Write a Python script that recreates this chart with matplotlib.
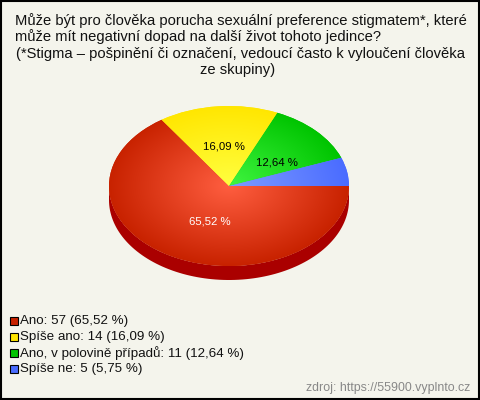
import numpy as np
import matplotlib.pyplot as plt
from matplotlib.patches import Rectangle, Polygon
from matplotlib.colors import to_rgb

plt.rcParams["font.family"] = ["Liberation Sans", "DejaVu Sans"]

# data
labels = ["Ano", "Spíše ano", "Ano, v polovině případů", "Spíše ne"]
counts = [57, 14, 11, 5]
face_inner = ["#ff5e40", "#ffff40", "#40f540", "#7f9cff"]
face_outer = ["#c82200", "#ffe600", "#00c400", "#4a6cff"]
side_colors = ["#aa0000", "#ccb800", "#009900", "#2c4acc"]
legend_colors = ["#c82200", "#ffe600", "#00c400", "#4a6cff"]

title_lines = [
    "Může být pro člověka porucha sexuální preference stigmatem*, které",
    "může mít negativní dopad na další život tohoto jedince?",
    "(*Stigma – pošpinění či označení, vedoucí často k vyloučení člověka",
    "ze skupiny)",
]
source = "zdroj: https://55900.vyplnto.cz"

BG = "#f4f4ec"
W, H = 480, 400
total = sum(counts)
pcts = [c / total * 100 for c in counts]


def fmt_pct(p):
    return f"{p:.2f} %".replace(".", ",")


fig = plt.figure(figsize=(W / 100, H / 100), dpi=100, facecolor=BG)

# pixel-space overlay for texts / legend / border
bg = fig.add_axes([0, 0, 1, 1])
bg.set_xlim(0, W)
bg.set_ylim(H, 0)
bg.axis("off")
bg.add_patch(Rectangle((0.5, 0.5), W - 1.5, H - 1.5, fill=False, ec="black", lw=1.5))

title_pos = [(241, 21, "center"), (15, 37, "left"), (241, 54, "center"), (238, 70, "center")]
for line, (x, y, ha) in zip(title_lines, title_pos):
    bg.text(x, y, line, ha=ha, va="center", fontsize=10.6, color="#111111")

# pie: ellipse rx=120, ry=80, depth 14 px
cx, cy, rx, ry, depth = 229, 186, 120, 80, 14
d = depth / ry
pie_ax = fig.add_axes([(cx - rx) / W, 1 - (cy + ry + depth) / H, 2 * rx / W, (2 * ry + depth) / H])
wedges, _, autotexts = pie_ax.pie(
    counts,
    startangle=0,
    counterclock=False,
    colors=face_outer,
    autopct=lambda p: fmt_pct(p) if p > 8 else "",
    pctdistance=0.5,
    wedgeprops=dict(linewidth=0),
    textprops=dict(fontsize=8.2),
)
pie_ax.set_aspect("auto")
pie_ax.axis("off")

# side wall for the front half
for w, sc in zip(wedges, side_colors):
    t1, t2 = sorted([w.theta1 % 360, w.theta2 % 360 if w.theta2 % 360 else 360])
    lo, hi = max(t1, 180), min(t2, 360)
    if w.theta2 - w.theta1 > 180:
        lo, hi = 180, 360
    if hi <= lo:
        continue
    t = np.radians(np.linspace(lo, hi, 100))
    xs, ys = np.cos(t), np.sin(t)
    pts = np.vstack([np.column_stack([xs, ys]), np.column_stack([xs[::-1], ys[::-1] - d])])
    pie_ax.add_patch(Polygon(pts, closed=True, fc=sc, ec="none", zorder=0.5))

# radial gradients on the top faces
gx, gy = np.meshgrid(np.linspace(-1, 1, 300), np.linspace(-1, 1, 300))
rr = np.clip(np.hypot(gx, gy), 0, 1)[..., None]
for w, ci, co in zip(wedges, face_inner, face_outer):
    img = np.array(to_rgb(ci)) * (1 - rr) + np.array(to_rgb(co)) * rr
    im = pie_ax.imshow(img, extent=[-1, 1, -1, 1], origin="lower", zorder=1.5, aspect="auto")
    im.set_clip_path(w)
pie_ax.set_xlim(-1, 1)
pie_ax.set_ylim(-1 - d, 1)

# nudge labels the way the original renderer places them
shift = [(0.7, 1.0), (1.0, 1.0), (1.1, 0.85), (1.0, 1.0)]
for t, (fx, fy), i in zip(autotexts, shift, range(len(autotexts))):
    t.set_zorder(3)
    t.set_color("white" if i == 0 else "black")
    x, y = t.get_position()
    t.set_position((x * fx, y * fy))

# legend
leg_y = [321, 337, 353, 369]
for lab, cnt, p, col, y in zip(labels, counts, pcts, legend_colors, leg_y):
    bg.add_patch(Rectangle((9.5, y - 4), 8, 8, fc=col, ec="black", lw=0.8))
    bg.text(20, y, f"{lab}: {cnt} ({fmt_pct(p)})", ha="left", va="center", fontsize=9.6, color="#111111")

bg.text(470, 388, source, ha="right", va="center", fontsize=8.9, color="#888888")

fig.savefig("out.png", dpi=100, facecolor=BG)
